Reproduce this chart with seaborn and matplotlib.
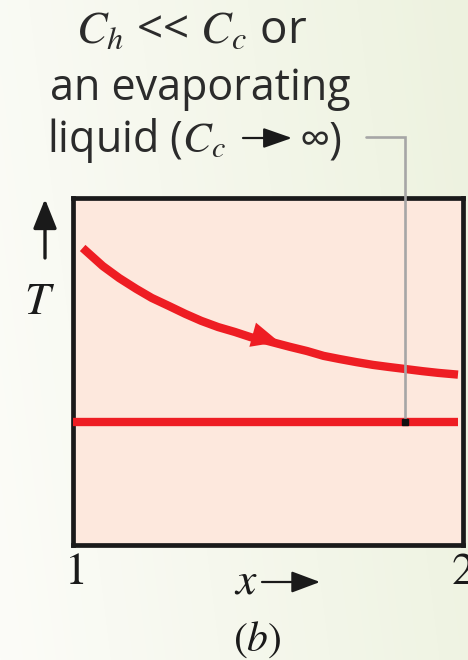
import numpy as np
import pandas as pd
import matplotlib
matplotlib.use("Agg")
import matplotlib.pyplot as plt
import seaborn as sns

# Temperature profiles along the exchanger (position x from end 1 to end 2)
hot_x = [1.015, 1.067, 1.110, 1.154, 1.194, 1.238, 1.281, 1.322, 1.366,
         1.409, 1.450, 1.494, 1.552, 1.596, 1.639, 1.680, 1.724, 1.767,
         1.808, 1.852, 1.895, 1.936, 1.987]
hot_T = [85.6, 80.4, 76.9, 73.8, 71.2, 68.9, 66.6, 64.6, 62.8,
         61.4, 59.9, 58.8, 57.1, 55.9, 54.5, 53.6, 52.7, 51.9,
         51.3, 50.7, 50.1, 49.6, 49.1]
cold_x = [0.990, 1.987]
cold_T = [35.4, 35.4]
x_ticks = [1, 2]
x_tick_labels = ["1", "2"]

sns.set_theme(style="white")
plt.rcParams["mathtext.fontset"] = "stix"
plt.rcParams["font.family"] = ["Open Sans", "DejaVu Sans"]

RED = "#ee1d23"
INK = "#1a1a1a"
TXT = "#2b2b2b"
W, H = 468, 660
fig = plt.figure(figsize=(W / 100, H / 100), dpi=100)

# soft page background, white on the left turning pale green on the right
bg = fig.add_axes([0, 0, 1, 1], zorder=-10)
u = np.linspace(0, 1, 200)[None, :]
v = np.linspace(0, 1, 200)[:, None]
t = np.clip(0.85 * u + 0.15 * (1 - v), 0, 1)[..., None]
left = np.array([252, 252, 248]) / 255
right = np.array([237, 242, 223]) / 255
bg.imshow(left + (right - left) * t, aspect="auto", extent=[0, 1, 0, 1],
          interpolation="bilinear")
bg.set_axis_off()


def px(x0, y0):
    """pixel position (from top-left) -> figure fraction"""
    return x0 / W, 1 - y0 / H


ax_left, ax_right, ax_top, ax_bot = 73, 463, 198, 545
ax = fig.add_axes([ax_left / W, 1 - ax_bot / H, (ax_right - ax_left) / W,
                   (ax_bot - ax_top) / H])
ax.set_facecolor("#fde8dd")

hot = pd.DataFrame({"x": hot_x, "T": hot_T})
cold = pd.DataFrame({"x": cold_x, "T": cold_T})
sns.lineplot(data=hot, x="x", y="T", ax=ax, color=RED, lw=6.0,
             solid_capstyle="butt", zorder=3)
sns.lineplot(data=cold, x="x", y="T", ax=ax, color=RED, lw=6.0,
             solid_capstyle="butt", zorder=3)

# flow direction arrowhead on the hot stream
ax.annotate("", xy=(1.524, 58.5), xytext=(1.442, 61.0),
            arrowprops=dict(arrowstyle="-|>,head_length=0.55,head_width=0.25",
                            color=RED, lw=0, mutation_scale=36,
                            shrinkA=0, shrinkB=0),
            zorder=4)

ax.set_xlim(0.990, 1.987)
ax.set_ylim(0, 100)
ax.set_xticks(x_ticks)
ax.set_xticklabels(x_tick_labels, fontfamily="STIXGeneral", fontsize=33,
                   color=INK)
ax.set_yticks([])
ax.tick_params(axis="x", length=0, pad=6)
ax.set_xlabel("")
ax.set_ylabel("")
for s in ax.spines.values():
    s.set_visible(True)
    s.set_color(INK)
    s.set_linewidth(3.4)

# leader line from the cold stream to the annotation
gx, gy_top, gx_end = 1.849, 117.6, 1.749
ax.plot([gx, gx, gx_end], [cold_T[0], gy_top, gy_top], color="#a6a6a6",
        lw=1.9, clip_on=False, zorder=5, solid_joinstyle="miter")
ax.plot([gx], [cold_T[0]], marker="s", ms=4.5, color="#111111", zorder=6,
        clip_on=False)


def fig_arrow(p_from, p_to, lw, scale, hl, hw):
    ax.annotate("", xy=px(*p_to), xytext=px(*p_from),
                xycoords="figure fraction", textcoords="figure fraction",
                annotation_clip=False,
                arrowprops=dict(arrowstyle=f"-|>,head_length={hl},head_width={hw}",
                                color=INK, lw=lw, mutation_scale=scale,
                                shrinkA=0, shrinkB=0))


# annotation text
fig.text(*px(192, 43), r"$C_h$ << $C_c$ or", ha="center", va="baseline",
         fontsize=33, color=TXT)
fig.text(*px(200, 100), "an evaporating", ha="center", va="baseline",
         fontsize=31, color=TXT)
fig.text(*px(47, 152), r"liquid ($C_c$", ha="left", va="baseline",
         fontsize=31, color=TXT)
fig_arrow((243, 138), (292, 138), 1.6, 22, 0.8, 0.28)
fig.text(*px(300, 152), "∞)", ha="left", va="baseline",
         fontsize=31, color=TXT)

# axis labels
fig_arrow((45, 258), (45, 199), 2.4, 24, 0.75, 0.3)
fig.text(*px(40, 302), r"$T$", ha="center", va="center", fontsize=33,
         color=INK)
fig.text(*px(246, 582), r"$x$", ha="center", va="center", fontsize=33,
         color=INK)
fig_arrow((262, 582), (320, 582), 1.6, 22, 0.8, 0.3)
fig.text(*px(257, 640), r"$(b)$", ha="center", va="center", fontsize=30,
         color=INK)

fig.savefig("out.png", dpi=100)
